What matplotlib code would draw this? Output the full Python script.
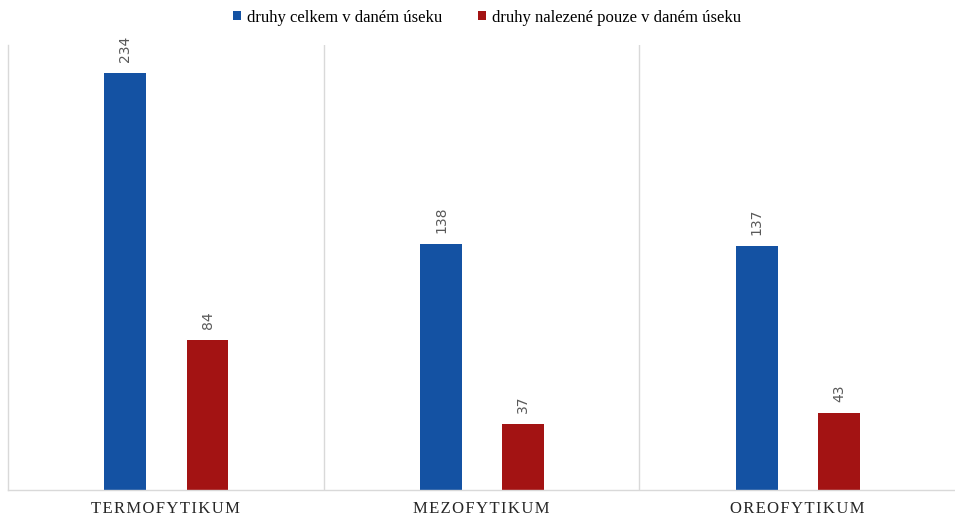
import numpy as np
import matplotlib
matplotlib.use('Agg')
import matplotlib.pyplot as plt

categories = ['TERMOFYTIKUM', 'MEZOFYTIKUM', 'OREOFYTIKUM']
total_species = [234, 138, 137]
unique_species = [84, 37, 43]
series_labels = ['druhy celkem v daném úseku', 'druhy nalezené pouze v daném úseku']

BLUE = '#1452A3'
RED = '#A31313'
GRID = '#D9D9D9'


def main():
    fig = plt.figure(figsize=(9.55, 5.19), dpi=100)
    ax = fig.add_axes([8 / 955, 29 / 519, 947 / 955, 445 / 519])

    x = np.arange(len(categories))
    width = 0.133
    offset = 0.13
    b1 = ax.bar(x - offset + 0.002, total_species, width, color=BLUE, label=series_labels[0])
    b2 = ax.bar(x + offset + 0.002, unique_species, width, color=RED, label=series_labels[1])

    for bars in (b1, b2):
        for rect in bars:
            h = rect.get_height()
            ax.annotate(f'{h:g}', (rect.get_x() + rect.get_width() / 2, h),
                        xytext=(0, 8), textcoords='offset points',
                        rotation=90, ha='center', va='bottom',
                        fontsize=10, color='#595959', family='DejaVu Sans')

    ax.set_xlim(-0.5, len(categories) - 0.5)
    ax.set_ylim(0, 250)

    # separators between the category blocks
    for sep in np.arange(0.5, len(categories) - 0.5, 1):
        ax.axvline(sep, color=GRID, linewidth=1, zorder=0)

    for side in ('top', 'right'):
        ax.spines[side].set_visible(False)
    for side in ('left', 'bottom'):
        ax.spines[side].set_color(GRID)
        ax.spines[side].set_linewidth(1)

    # letter-spaced category names (hair spaces between letters)
    ax.set_yticks([])
    ax.set_xticks(x)
    ax.set_xticklabels(['\u200a'.join(c) for c in categories],
                       family=['Liberation Serif', 'DejaVu Serif'],
                       fontsize=12, color='#262626')
    ax.tick_params(axis='x', length=0, pad=8)

    fig.legend(loc='upper center', bbox_to_anchor=(0.51, 1.01), ncol=2, frameon=False,
               prop={'family': 'Liberation Serif', 'size': 12},
               handlelength=0.45, handleheight=0.45, handletextpad=0.35, columnspacing=2.2)

    fig.savefig('out.png', dpi=100)
    plt.close(fig)


if __name__ == '__main__':
    main()
